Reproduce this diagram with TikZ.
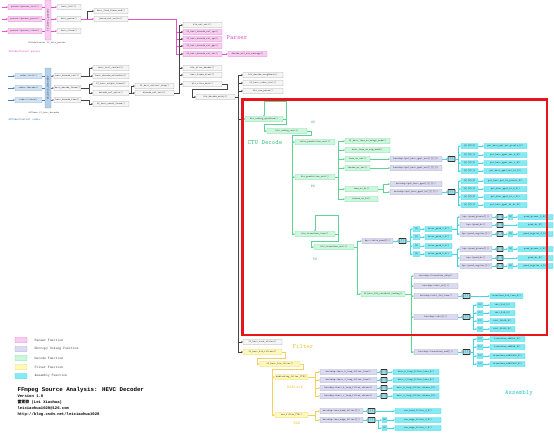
\documentclass[tikz,border=0pt]{standalone}
\usepackage{fontspec}
\newfontfamily\cjkf{Noto Sans CJK SC}
\newfontfamily\titlef{Liberation Mono}
\usetikzlibrary{arrows.meta}
\definecolor{pinkF}{HTML}{F9CCF1}
\definecolor{pinkD}{HTML}{E070D0}
\definecolor{pinkL}{HTML}{E655C8}
\definecolor{grayF}{HTML}{F5F5F5}
\definecolor{grayD}{HTML}{A8A8A8}
\definecolor{grayL}{HTML}{454545}
\definecolor{greenF}{HTML}{CDF7DC}
\definecolor{greenD}{HTML}{6ED9A0}
\definecolor{greenL}{HTML}{5CD494}
\definecolor{greenT}{HTML}{3FBF7A}
\definecolor{purpF}{HTML}{DADAF0}
\definecolor{purpD}{HTML}{A0A0D2}
\definecolor{cyanF}{HTML}{82EBF3}
\definecolor{cyanD}{HTML}{3CCFE0}
\definecolor{cyanL}{HTML}{45D5E5}
\definecolor{cyanT}{HTML}{2EC4C4}
\definecolor{yelF}{HTML}{FFF9B8}
\definecolor{yelD}{HTML}{F0CF5A}
\definecolor{yelL}{HTML}{F5D060}
\definecolor{yelT}{HTML}{F2C23A}
\definecolor{blueF}{HTML}{D2E4F4}
\definecolor{blueD}{HTML}{7FA7D0}
\definecolor{blueL}{HTML}{4A7FC0}
\definecolor{blueBar}{HTML}{B5CFE8}
\definecolor{darkF}{HTML}{9ADDE6}
\definecolor{redB}{HTML}{E8141C}
\tikzset{
  basebox/.style={draw, inner sep=0pt, minimum height=5pt, line width=0.35pt, rounded corners=0.4pt, font=\ttfamily\fontsize{2.5}{2.6}\selectfont, text=black!75},
  pinkbox/.style={basebox, fill=pinkF, draw=pinkD},
  graybox/.style={basebox, fill=grayF, draw=grayD},
  greenbox/.style={basebox, fill=greenF, draw=greenD},
  purpbox/.style={basebox, fill=purpF, draw=purpD},
  cyanbox/.style={basebox, fill=cyanF, draw=cyanD},
  yelbox/.style={basebox, fill=yelF, draw=yelD},
  bluebox/.style={basebox, fill=blueF, draw=blueD},
  darkbox/.style={basebox, fill=darkF, draw=black!80, line width=0.6pt},
  connline/.style={line width=0.5pt, -{Stealth[length=1.6pt,width=1.8pt]}},
  parrow/.style={connline, draw=pinkL},
  garrow/.style={connline, draw=grayL},
  barrow/.style={connline, draw=blueL},
  grarrow/.style={connline, draw=greenL},
  carrow/.style={connline, draw=cyanL},
  yarrow/.style={connline, draw=yelL},
  bareline/.style={line width=0.5pt},
  headtxt/.style={font=\ttfamily\fontsize{6.5}{7}\selectfont},
  smalltxt/.style={font=\ttfamily\fontsize{2.5}{3}\selectfont, text=black!70},
  legtxt/.style={anchor=west, font=\ttfamily\fontsize{3.6}{4}\selectfont, text=black!70},
  infotxt/.style={anchor=west, font=\titlef\bfseries\fontsize{3.9}{5}\selectfont},
}
\newcommand\bx[6]{\node[#1,minimum width={(#4)-(#3)}] (#2) at ({((#3)+(#4))/2},#5) {#6};}
\newcommand\cn[4]{\draw[#1] (#2.east) -- ++(#3,0) |- (#4.west);}
\begin{document}
\catcode`\_=12
\begin{tikzpicture}[x=1pt,y=-1pt]
\fill[white] (0,0) rectangle (554,432);
\useasboundingbox (0,0) rectangle (554,432);

% ---------------- Parser ----------------
\bx{pinkbox}{pinit}{8}{42}{7}{parser->parser_init()}
\bx{pinkbox}{pparse}{8}{42}{19}{parser->parser_parse()}
\bx{pinkbox}{pclose}{8}{42}{31}{parser->parser_close()}
\node[basebox, fill=pinkF, draw=pinkD, minimum width=6pt, minimum height=40pt, font=\ttfamily\fontsize{3}{3}\selectfont] (pbar) at (48,20) {\rotatebox{90}{ff_hevc_parser}};
\bx{graybox}{hinit}{57}{81}{7}{hevc_init()}
\bx{graybox}{hparse}{57}{81}{19}{hevc_parse()}
\bx{graybox}{hclose}{57}{81}{31}{hevc_close()}
\bx{graybox}{hffe}{94}{128}{11}{hevc_find_frame_end()}
\bx{graybox}{pnu}{94}{128}{19}{parse_nal_units()}
\node[smalltxt] (lpar) at (47,43) {AVCodecParser ff_hevc_parser};
\node[anchor=west, text=pinkL, font=\ttfamily\fontsize{3}{3}\selectfont] (lpctx) at (5,52) {AVCodecParser parser};
\node[headtxt, text=pinkL] (hparser) at (237,38) {Parser};

\foreach \n/\y in {pinit/7,pparse/19,pclose/31}{
  \coordinate (s\n) at (2,\y);
  \draw[parrow] (s\n) -- (\n.west);
  \draw[bareline, draw=pinkL] (\n.east) -- (\n.east -| pbar.west);
}
\foreach \n in {hinit,hparse,hclose}{\draw[parrow] (\n.west -| pbar.east) -- (\n.west);}
\cn{garrow}{hparse}{6}{hffe}
\draw[parrow] (hparse.east) -- (pnu.west);

% ---------------- Decoder ----------------
\bx{bluebox}{cinit}{15}{42}{76}{codec->init()}
\bx{bluebox}{cdec}{15}{42}{88}{codec->decode()}
\bx{bluebox}{cclose}{15}{42}{100}{codec->close()}
\node[basebox, fill=blueBar, draw=blueD, minimum width=6pt, minimum height=40pt, font=\ttfamily\fontsize{3}{3}\selectfont] (dbar) at (48,88) {\rotatebox{90}{ff_hevc_decoder}};
\bx{graybox}{hdi}{54}{81}{76}{hevc_decode_init()}
\bx{graybox}{hdf}{54}{81}{88}{hevc_decode_frame()}
\bx{graybox}{hdfr}{54}{81}{100}{hevc_decode_free()}
\bx{graybox}{hic}{93}{129}{68}{hevc_init_context()}
\bx{graybox}{hdx}{93}{129}{76}{hevc_decode_extradata()}
\bx{graybox}{hof}{93}{129}{84}{ff_hevc_output_frame()}
\bx{graybox}{dnus}{93}{129}{93}{decode_nal_units()}
\bx{graybox}{huf}{93}{129}{104}{ff_hevc_unref_frame()}
\bx{graybox}{erb}{135}{174}{86}{ff_hevc_extract_rbsp()}
\bx{graybox}{dnu}{135}{174}{93}{decode_nal_unit()}
\node[smalltxt] (ldec) at (44,113) {AVCodec ff_hevc_decoder};
\node[anchor=west, text=blueL, font=\ttfamily\fontsize{3}{3}\selectfont] (lcctx) at (5,120) {AVCodecContext codec};

\foreach \n/\y in {cinit/76,cdec/88,cclose/100}{
  \coordinate (s\n) at (8,\y);
  \draw[barrow] (s\n) -- (\n.west);
  \draw[bareline, draw=blueL] (\n.east) -- (\n.east -| dbar.west);
}
\foreach \n in {hdi,hdf,hdfr}{\draw[barrow] (\n.west -| dbar.east) -- (\n.west);}
\cn{garrow}{hdi}{8}{hic}
\cn{garrow}{hdi}{8}{hdx}
\cn{garrow}{hdf}{8}{hof}
\cn{garrow}{hdf}{8}{dnus}
\cn{garrow}{hdfr}{8}{huf}
\cn{garrow}{dnus}{2}{erb}
\cn{garrow}{dnus}{2}{dnu}

% NAL level
\bx{graybox}{hnu}{183}{222}{25}{hls_nal_unit()}
\bx{pinkbox}{vps}{183}{222}{32}{ff_hevc_decode_nal_vps()}
\bx{pinkbox}{sps}{183}{222}{39}{ff_hevc_decode_nal_sps()}
\bx{pinkbox}{pps}{183}{222}{46}{ff_hevc_decode_nal_pps()}
\bx{pinkbox}{sei}{183}{222}{54}{ff_hevc_decode_nal_sei()}
\bx{pinkbox}{seim}{228}{267}{54}{decode_nal_sei_message()}
\bx{graybox}{hsh}{183}{222}{68}{hls_slice_header()}
\bx{graybox}{hfs}{183}{222}{75}{hevc_frame_start()}
\bx{graybox}{hsd}{183}{222}{84}{hls_slice_data()}
\bx{graybox}{hden}{196}{235}{97}{hls_decode_entry()}
\foreach \n in {vps,sps,pps,sei}{\cn{parrow}{pnu}{48}{\n}}
\foreach \n in {hnu,vps,sps,pps,sei,hsh,hfs,hsd}{\cn{garrow}{dnu}{5}{\n}}
\draw[parrow] (sei.east) -- (seim.west);
\draw[garrow] (hsd.east) -- ++(5,0) -- ++(0,5) -| ([xshift=-4pt]hden.west) -- (hden.west);

% slice level
\bx{graybox}{hdn}{243}{283}{75}{hls_decode_neighbour()}
\bx{graybox}{cab}{243}{283}{83}{ff_hevc_cabac_init()}
\bx{graybox}{saop}{243}{283}{91}{hls_sao_param()}
\bx{greenbox}{cq}{245}{283}{119}{hls_coding_quadtree()}
\bx{graybox}{ss}{243}{282}{342}{ff_hevc_save_states()}
\bx{yelbox}{hf}{243}{282}{352}{ff_hevc_hls_filters()}
\foreach \n in {hdn,cab,saop,cq,ss,hf}{\cn{garrow}{hden}{3}{\n}}

% ---------------- CTU decode ----------------
\node[headtxt, text=greenT] (hctu) at (265,143) {CTU Decode};
\bx{greenbox}{cu}{267}{307}{131}{hls_coding_unit()}
\bx{greenbox}{ipu}{295}{335}{142}{intra_prediction_unit()}
\bx{greenbox}{hpu}{295}{335}{177}{hls_prediction_unit()}
\bx{greenbox}{htt}{295}{335}{234}{hls_transform_tree()}
\node[font=\ttfamily\fontsize{3.6}{4}\selectfont, text=greenT!80!black] (lcu) at (313,122) {CU};
\node[font=\ttfamily\fontsize{3.6}{4}\selectfont, text=greenT!80!black] (lpu) at (313,186) {PU};
\node[font=\ttfamily\fontsize{3.6}{4}\selectfont, text=greenT!80!black] (ltu) at (315,259) {TU};
\draw[grarrow] (cq.east) -- ++(3,0) -- ++(0,-18) -| (cq.north);
\draw[grarrow] (cq.east) -- ++(3,0) -- ++(0,5) -| ([xshift=-3pt]cu.west) -- (cu.west);
\foreach \c in {ipu,hpu,htt}{\draw[grarrow] (cu.east) -- ++(4,0) -- ++(0,4) -| ([xshift=-3pt]\c.west) -- (\c.west);}

% PU
\bx{greenbox}{mrg}{345}{390}{141}{ff_hevc_luma_mv_merge_mode()}
\bx{greenbox}{mvp}{345}{390}{150}{hevc_luma_mv_mvp_mode()}
\bx{greenbox}{lmu}{345}{370}{159}{luma_mc_uni()}
\bx{greenbox}{cmu}{345}{370}{168}{chroma_mc_uni()}
\bx{greenbox}{lmb}{345}{378}{189}{luma_mc_bi()}
\bx{greenbox}{cmb}{345}{378}{199}{chroma_mc_bi()}
\foreach \n in {mrg,mvp,lmu,cmu,lmb,cmb}{\cn{grarrow}{hpu}{3}{\n}}
\bx{purpbox}{qu}{390}{442}{159}{hevcdsp->put_hevc_qpel_uni[][][]()}
\bx{purpbox}{eu}{390}{442}{168}{hevcdsp->put_hevc_epel_uni[][][]()}
\bx{purpbox}{qp}{390}{442}{184}{hevcdsp->put_hevc_qpel[][][]()}
\bx{purpbox}{qb}{390}{442}{192}{hevcdsp->put_hevc_qpel_bi[][][]()}
\draw[grarrow] (lmu.east) -- (qu.west);
\draw[grarrow] (cmu.east) -- (eu.west);
\cn{grarrow}{lmb}{5}{qp}
\cn{grarrow}{lmb}{5}{qb}
\bx{darkbox}{dk1}{448}{455}{159}{[ ]}
\bx{darkbox}{dk2}{448}{455}{192}{[ ]}
\draw[carrow] (qu.east) -- (dk1.west);
\draw[carrow] (qb.east) -- (dk2.west);
\foreach \i/\y/\s/\t in {1/146/{[x][0][0]}/{put_hevc_pel_uni_pixels_8()},2/155/{[x][0][1]}/{put_hevc_qpel_uni_h_8()},3/163/{[x][1][0]}/{put_hevc_qpel_uni_v_8()},4/171/{[x][1][1]}/{put_hevc_qpel_uni_hv_8()}}{
  \bx{cyanbox}{ua\i}{461}{478}{\y}{\s}
  \bx{cyanbox}{ub\i}{484}{527}{\y}{\t}
  \cn{carrow}{dk1}{3}{ua\i}
  \draw[carrow] (ua\i.east) -- (ub\i.west);
}
\foreach \i/\y/\s/\t in {1/181/{[x][0][0]}/{put_hevc_pel_bi_pixels_8()},2/189/{[x][0][1]}/{put_hevc_qpel_bi_h_8()},3/197/{[x][1][0]}/{put_hevc_qpel_bi_v_8()},4/205/{[x][1][1]}/{put_hevc_qpel_bi_hv_8()}}{
  \bx{cyanbox}{ba\i}{461}{478}{\y}{\s}
  \bx{cyanbox}{bb\i}{484}{527}{\y}{\t}
  \cn{carrow}{dk2}{3}{ba\i}
  \draw[carrow] (ba\i.east) -- (bb\i.west);
}

% TU
\bx{greenbox}{htu}{314}{354}{247}{hls_transform_unit()}
\draw[grarrow] (htt.east) -- ++(3,0) -- ++(0,-19) -| (htt.north);
\draw[grarrow] (htt.east) -- ++(3,0) -- ++(0,7) -| ([xshift=-3pt]htu.west) -- (htu.west);
\bx{purpbox}{ipr}{362}{393}{241}{hpc->intra_pred[]()}
\bx{greenbox}{rc}{361}{405}{294}{ff_hevc_hls_residual_coding()}
\cn{grarrow}{htu}{3}{ipr}
\cn{grarrow}{htu}{3}{rc}
\bx{darkbox}{dk3}{399}{406}{241}{[ ]}
\draw[carrow] (ipr.east) -- (dk3.west);
\foreach \i/\y/\s/\t in {0/229/{[0]}/{intra_pred_2_8()},1/237/{[1]}/{intra_pred_3_8()},2/246/{[2]}/{intra_pred_4_8()},3/254/{[3]}/{intra_pred_5_8()}}{
  \bx{cyanbox}{ta\i}{413}{420}{\y}{\s}
  \bx{cyanbox}{tb\i}{425}{452}{\y}{\t}
  \cn{carrow}{dk3}{4}{ta\i}
  \draw[carrow] (ta\i.east) -- (tb\i.west);
}
% intra pred sub-functions
\foreach \g/\src/\ya/\yb/\yc/\k in {u/tb0/217/225/234/0,l/tb3/249/258/266/3}{
  \bx{purpbox}{pl\g}{460}{492}{\ya}{hpc->pred_planar[]()}
  \bx{purpbox}{pd\g}{460}{492}{\yb}{hpc->pred_dc()}
  \bx{purpbox}{pa\g}{460}{492}{\yc}{hpc->pred_angular[]()}
  \cn{carrow}{\src}{5}{pl\g}
  \cn{carrow}{\src}{5}{pd\g}
  \cn{carrow}{\src}{5}{pa\g}
  \bx{darkbox}{dpl\g}{497}{503}{\ya}{[ ]}
  \bx{darkbox}{dpd\g}{497}{503}{\yb}{[ ]}
  \bx{darkbox}{dpa\g}{497}{503}{\yc}{[ ]}
  \bx{cyanbox}{spl\g}{508}{513}{\ya}{[\k]}
  \bx{cyanbox}{spa\g}{508}{513}{\yc}{[\k]}
  \bx{cyanbox}{bpl\g}{518}{553}{\ya}{pred_planar_\k_8()}
  \bx{cyanbox}{bpd\g}{518}{553}{\yb}{pred_dc_8()}
  \bx{cyanbox}{bpa\g}{518}{553}{\yc}{pred_angular_\k_8()}
  \draw[carrow] (pl\g.east) -- (dpl\g.west);
  \draw[carrow] (pd\g.east) -- (dpd\g.west);
  \draw[carrow] (pa\g.east) -- (dpa\g.west);
  \draw[carrow] (dpl\g.east) -- (spl\g.west);
  \draw[carrow] (dpa\g.east) -- (spa\g.west);
  \draw[carrow] (spl\g.east) -- (bpl\g.west);
  \draw[carrow] (spa\g.east) -- (bpa\g.west);
  \draw[carrow] (dpd\g.east) -- (bpd\g.west);
}
% residual coding
\bx{purpbox}{tsk}{414}{458}{276}{hevcdsp->transform_skip()}
\bx{purpbox}{idc}{414}{458}{286}{hevcdsp->idct_dc[]()}
\bx{purpbox}{i4l}{414}{458}{296}{hevcdsp->idct_4x4_luma()}
\bx{purpbox}{idt}{414}{458}{317}{hevcdsp->idct[]()}
\bx{purpbox}{tad}{414}{458}{352}{hevcdsp->transform_add[]()}
\foreach \n in {tsk,idc,i4l,idt,tad}{\cn{grarrow}{rc}{6}{\n}}
\bx{darkbox}{di4}{463}{470}{296}{[ ]}
\bx{cyanbox}{bi4}{490}{523}{296}{transform_4x4_luma_8()}
\draw[carrow] (i4l.east) -- (di4.west);
\draw[carrow] (di4.east) -- (bi4.west);
\bx{darkbox}{didt}{463}{470}{317}{[ ]}
\draw[carrow] (idt.east) -- (didt.west);
\foreach \i/\y/\t in {0/305/{idct_4x4_8()},1/313/{idct_8x8_8()},2/321/{idct_16x16_8()},3/329/{idct_32x32_8()}}{
  \bx{cyanbox}{ia\i}{477}{483}{\y}{[\i]}
  \bx{cyanbox}{ib\i}{490}{515}{\y}{\t}
  \cn{carrow}{didt}{3}{ia\i}
  \draw[carrow] (ia\i.east) -- (ib\i.west);
}
\bx{darkbox}{dtad}{463}{470}{352}{[ ]}
\draw[carrow] (tad.east) -- (dtad.west);
\foreach \i/\y/\t in {0/339/{transform_add4x4_8()},1/347/{transform_add8x8_8()},2/356/{transform_add16x16_8()},3/364/{transform_add32x32_8()}}{
  \bx{cyanbox}{aa\i}{477}{483}{\y}{[\i]}
  \bx{cyanbox}{ab\i}{490}{525}{\y}{\t}
  \cn{carrow}{dtad}{3}{aa\i}
  \draw[carrow] (aa\i.east) -- (ab\i.west);
}

% ---------------- Filter ----------------
\node[headtxt, text=yelT] (hfilt) at (303,347) {Filter};
\bx{yelbox}{hfl}{260}{300}{364}{ff_hevc_hls_filter()}
\bx{yelbox}{dbk}{275}{308}{377}{deblocking_filter_CTB()}
\bx{yelbox}{saf}{275}{308}{415}{sao_filter_CTB()}
\node[font=\ttfamily\fontsize{4.2}{5}\selectfont, text=yelT] (ldb) at (295,387) {DeBlock};
\node[font=\ttfamily\fontsize{4.2}{5}\selectfont, text=yelT] (lsao) at (297,423) {SAO};
\draw[yarrow] (hf.east) -- ++(3,0) -- ++(0,6) -| ([xshift=-3pt]hfl.west) -- (hfl.west);
\draw[yarrow] (hfl.east) -- ++(3,0) -- ++(0,5) -| ([xshift=-3pt]dbk.west) -- (dbk.west);
\draw[yarrow] (hfl.east) -- ++(3,0) -- ++(0,5) -| ([xshift=-3pt]saf.west) -- (saf.west);
\foreach \i/\y/\s in {1/372/h_loop_filter_luma,2/380/v_loop_filter_luma,3/388/h_loop_filter_chroma,4/396/v_loop_filter_chroma}{
  \bx{purpbox}{fa\i}{320}{377}{\y}{hevcdsp->hevc_\s()}
  \bx{darkbox}{fd\i}{381}{387}{\y}{[ ]}
  \bx{cyanbox}{fb\i}{393}{439}{\y}{hevc_\s_8()}
  \cn{yarrow}{dbk}{7}{fa\i}
  \draw[carrow] (fa\i.east) -- (fd\i.west);
  \draw[carrow] (fd\i.east) -- (fb\i.west);
}
\bx{purpbox}{sbf}{320}{363}{411}{hevcdsp->sao_band_filter[]()}
\bx{purpbox}{sef}{320}{363}{420}{hevcdsp->sao_edge_filter[]()}
\cn{yarrow}{saf}{7}{sbf}
\cn{yarrow}{saf}{7}{sef}
\bx{darkbox}{dsb}{368}{375}{411}{[ ]}
\bx{darkbox}{dse}{368}{375}{420}{[ ]}
\bx{cyanbox}{bsb}{395}{441}{411}{sao_band_filter_0_8()}
\draw[carrow] (sbf.east) -- (dsb.west);
\draw[carrow] (sef.east) -- (dse.west);
\draw[carrow] (dsb.east) -- (bsb.west);
\foreach \i/\y in {0/420,1/428}{
  \bx{cyanbox}{ea\i}{382}{387}{\y}{[\i]}
  \bx{cyanbox}{eb\i}{395}{441}{\y}{sao_edge_filter_\i_8()}
  \cn{carrow}{dse}{3}{ea\i}
  \draw[carrow] (ea\i.east) -- (eb\i.west);
}
\node[headtxt, text=cyanT] (hasm) at (519,393) {Assembly};

% ---------------- red frame ----------------
\draw[redB, line width=2.5pt] (242.5,99.5) rectangle (547,335);

% ---------------- legend ----------------
\node[pinkbox, minimum width=12pt] (lg1) at (21,340) {};
\node[graybox, fill=purpF, draw=purpD, minimum width=12pt] (lg2) at (21,349) {};
\node[greenbox, minimum width=12pt] (lg3) at (21,358) {};
\node[yelbox, minimum width=12pt] (lg4) at (21,367) {};
\node[cyanbox, minimum width=12pt] (lg5) at (21,376) {};
\node[legtxt] (lt1) at (31,340) {Parser Function};
\node[legtxt] (lt2) at (31,349) {Entropy Coding Function};
\node[legtxt] (lt3) at (31,358) {Decode Function};
\node[legtxt] (lt4) at (31,367) {Filter Function};
\node[legtxt] (lt5) at (31,376) {Assembly Function};

\node[anchor=west, font=\titlef\bfseries\fontsize{5.8}{7}\selectfont] (title) at (14,390) {FFmpeg Source Analysis: HEVC Decoder};
\node[infotxt] (i1) at (14,396.5) {Version 1.0};
\node[infotxt] (i2) at (14,402) {{\cjkf\bfseries\fontsize{3.9}{5}\selectfont 雷霄骅} (Lei Xiaohua)};
\node[infotxt] (i3) at (14,408) {leixiaohua1020@126.com};
\node[infotxt] (i4) at (14,414) {http://blog.csdn.net/leixiaohua1020};
\end{tikzpicture}
\end{document}
